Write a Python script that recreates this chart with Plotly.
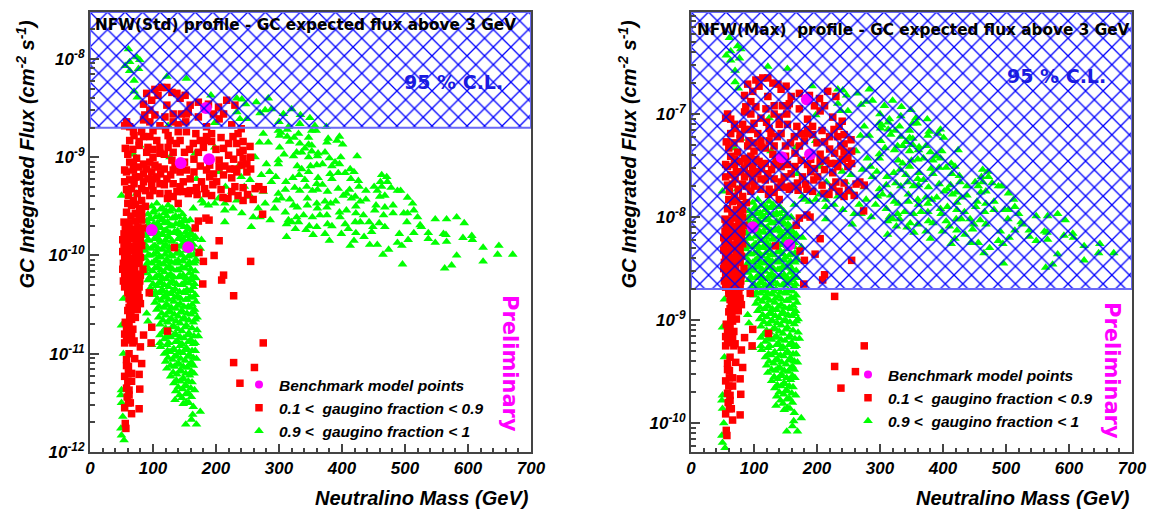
import plotly.graph_objects as go

# Values: neutralino mass (GeV) and log10 of the integrated flux
mass_green_top = [61,74,79,63,56,63,77,70,122,153,70,75,192,233,241,247,264,283,278,288,270,233,238,249,198,300,307,320,333,349,357,375,315,124,334]
std_green_top = [-7.90,-7.98,-8.01,-8.03,-8.07,-8.12,-8.10,-8.22,-8.18,-8.20,-8.33,-8.39,-8.37,-8.40,-8.41,-8.46,-8.44,-8.40,-8.52,-8.51,-8.55,-8.54,-8.61,-8.61,-8.65,-8.64,-8.56,-8.51,-8.66,-8.60,-8.68,-8.69,-8.69,-8.68,-8.57]
max_green_top = [-6.26,-6.34,-6.37,-6.39,-6.43,-6.48,-6.46,-6.58,-6.54,-6.56,-6.69,-6.75,-6.73,-6.76,-6.77,-6.82,-6.80,-6.76,-6.88,-6.87,-6.91,-6.90,-6.97,-6.97,-7.01,-7.00,-6.92,-6.87,-7.02,-6.96,-7.04,-7.05,-7.05,-7.04,-6.93]

mass_green_cloud = [303,313,331,352,359,324,313,347,378,396,392,401,376,317,333,347,352,424,308,323,328,336,341,352,362,373,347,361,380,398,389,396,384,360,369,350,329,336,347,381,394,413,405,419,414,426,427,384,362,332,322,311,341,360,369,325,333,344,353,361,377,394,412,407,402,421,438,451,456,463,471,472,461,463,478,488,493,468,460,438,429,415,390,382,373,360,345,317,304,310,323,329,345,361,376,396,407,422,454,468,481,504,512,514,498,504,520,481,466,452,422,434,397,376,365,353,339,328,310,315,320,331,312,348,360,377,384,405,421,429,443,459,449,468,503,524,526,514,548,566,582,594,537,561,565,592,606,607,537,548,566,624,649,647,671,582,624,496,563,574,465,474,456,444,413,419,380,354,343,326,312,373,399,410,422,435,447,488,495,505,491,275,299,301,269,283,301,262,280,299,299,198,79,69,167,127,169,206,272,288,254,299,177,188,198,214,214,214,227,241,256,259,270,286,293,278,296,267,233,204,180,164,151,159,167,177,175,215,225,240,245,255,265,275,285,295,235]
std_green_cloud = [-8.75,-8.72,-8.76,-8.73,-8.73,-8.80,-8.79,-8.80,-8.81,-8.79,-8.83,-8.87,-8.85,-8.84,-8.86,-8.87,-8.88,-8.99,-8.97,-8.99,-8.95,-8.95,-8.91,-8.94,-8.96,-8.95,-9.00,-8.99,-9.01,-9.00,-9.05,-9.07,-9.09,-9.08,-9.07,-9.09,-9.09,-9.12,-9.15,-9.17,-9.16,-9.12,-9.16,-9.15,-9.22,-9.24,-9.30,-9.22,-9.21,-9.18,-9.21,-9.25,-9.23,-9.27,-9.28,-9.31,-9.34,-9.30,-9.34,-9.33,-9.35,-9.32,-9.33,-9.37,-9.39,-9.40,-9.34,-9.30,-9.34,-9.18,-9.20,-9.25,-9.25,-9.30,-9.31,-9.34,-9.34,-9.39,-9.40,-9.43,-9.45,-9.42,-9.45,-9.47,-9.45,-9.47,-9.42,-9.43,-9.42,-9.33,-9.49,-9.51,-9.49,-9.52,-9.51,-9.56,-9.54,-9.50,-9.49,-9.51,-9.49,-9.41,-9.47,-9.54,-9.57,-9.57,-9.61,-9.57,-9.59,-9.54,-9.57,-9.59,-9.61,-9.59,-9.59,-9.61,-9.59,-9.61,-9.56,-9.64,-9.66,-9.66,-9.68,-9.70,-9.71,-9.68,-9.70,-9.68,-9.66,-9.66,-9.66,-9.67,-9.71,-9.71,-9.66,-9.69,-9.71,-9.77,-9.63,-9.63,-9.61,-9.67,-9.77,-9.78,-9.79,-9.82,-9.80,-9.84,-9.83,-9.87,-9.86,-9.92,-9.90,-9.99,-9.99,-10.00,-10.06,-10.09,-10.13,-10.10,-9.99,-9.94,-9.89,-9.89,-9.90,-9.85,-9.85,-9.79,-9.74,-9.73,-9.81,-9.78,-9.78,-9.73,-9.77,-9.81,-9.76,-9.87,-9.90,-9.84,-9.78,-8.76,-8.73,-8.78,-8.85,-8.85,-8.90,-9.00,-9.07,-9.03,-9.07,-8.90,-8.88,-8.97,-8.96,-9.00,-9.22,-9.15,-9.18,-9.25,-9.23,-9.37,-9.44,-9.49,-9.47,-9.47,-9.54,-9.66,-9.52,-9.57,-9.71,-9.61,-9.61,-9.64,-9.52,-9.47,-9.44,-9.52,-9.44,-9.42,-9.47,-9.52,-9.64,-9.64,-9.81,-9.84,-9.93,-9.30,-9.35,-9.20,-9.30,-9.40,-9.30,-9.35,-9.15,-9.20,-9.10]
max_green_cloud = [-7.11,-7.08,-7.12,-7.09,-7.09,-7.16,-7.15,-7.16,-7.17,-7.15,-7.19,-7.23,-7.21,-7.20,-7.22,-7.23,-7.24,-7.35,-7.33,-7.35,-7.31,-7.31,-7.27,-7.30,-7.32,-7.31,-7.36,-7.35,-7.37,-7.36,-7.41,-7.43,-7.45,-7.44,-7.43,-7.45,-7.45,-7.48,-7.51,-7.53,-7.52,-7.48,-7.52,-7.51,-7.58,-7.60,-7.66,-7.58,-7.57,-7.54,-7.57,-7.61,-7.59,-7.63,-7.64,-7.67,-7.70,-7.66,-7.70,-7.69,-7.71,-7.68,-7.69,-7.73,-7.75,-7.76,-7.70,-7.66,-7.70,-7.54,-7.56,-7.61,-7.61,-7.66,-7.67,-7.70,-7.70,-7.75,-7.76,-7.79,-7.81,-7.78,-7.81,-7.83,-7.81,-7.83,-7.78,-7.79,-7.78,-7.69,-7.85,-7.87,-7.85,-7.88,-7.87,-7.92,-7.90,-7.86,-7.85,-7.87,-7.85,-7.77,-7.83,-7.90,-7.93,-7.93,-7.97,-7.93,-7.95,-7.90,-7.93,-7.95,-7.97,-7.95,-7.95,-7.97,-7.95,-7.97,-7.92,-8.00,-8.02,-8.02,-8.04,-8.06,-8.07,-8.04,-8.06,-8.04,-8.02,-8.02,-8.02,-8.03,-8.07,-8.07,-8.02,-8.05,-8.07,-8.13,-7.99,-7.99,-7.97,-8.03,-8.13,-8.14,-8.15,-8.18,-8.16,-8.20,-8.19,-8.23,-8.22,-8.28,-8.26,-8.35,-8.35,-8.36,-8.42,-8.45,-8.49,-8.46,-8.35,-8.30,-8.25,-8.25,-8.26,-8.21,-8.21,-8.15,-8.10,-8.09,-8.17,-8.14,-8.14,-8.09,-8.13,-8.17,-8.12,-8.23,-8.26,-8.20,-8.14,-7.12,-7.09,-7.14,-7.21,-7.21,-7.26,-7.36,-7.43,-7.39,-7.43,-7.26,-7.24,-7.33,-7.32,-7.36,-7.58,-7.51,-7.54,-7.61,-7.59,-7.73,-7.80,-7.85,-7.83,-7.83,-7.90,-8.02,-7.88,-7.93,-8.07,-7.97,-7.97,-8.00,-7.88,-7.83,-7.80,-7.88,-7.80,-7.78,-7.83,-7.88,-8.00,-8.00,-8.17,-8.20,-8.29,-7.66,-7.71,-7.56,-7.66,-7.76,-7.66,-7.71,-7.51,-7.56,-7.46]

mass_green_blob = [98,106,115,124,131,92,101,110,118,127,136,147,90,97,107,116,123,133,142,152,87,95,104,112,121,130,139,149,157,88,98,107,116,125,135,144,153,161,86,94,103,112,120,129,138,147,156,164,87,97,106,115,124,133,142,152,162,87,95,105,113,122,131,140,150,160,168,89,98,108,117,126,135,146,155,165,90,99,110,118,128,138,148,158,167,92,103,112,121,131,141,151,160,168,96,106,115,125,135,145,154,164,100,110,120,129,139,149,159,167,103,113,122,133,143,152,162,168,106,117,127,136,146,156,166,109,120,130,140,150,160,170,111,123,133,143,153,164,115,125,136,146,157,170,118,128,139,149,160,172,112,122,133,143,153,164,118,127,137,147,158,167,120,131,141,151,161,169,122,134,144,154,164,128,138,148,158,165,133,143,152,162,136,147,156,166,135,146,153,161,164,175,163,161,169,152]
std_green_blob = [-9.50,-9.47,-9.52,-9.49,-9.53,-9.58,-9.56,-9.60,-9.57,-9.55,-9.60,-9.58,-9.65,-9.63,-9.67,-9.64,-9.66,-9.62,-9.67,-9.65,-9.73,-9.71,-9.75,-9.72,-9.74,-9.70,-9.75,-9.71,-9.73,-9.80,-9.78,-9.82,-9.79,-9.81,-9.77,-9.82,-9.80,-9.79,-9.88,-9.85,-9.90,-9.87,-9.89,-9.86,-9.90,-9.88,-9.85,-9.89,-9.95,-9.93,-9.97,-9.94,-9.96,-9.92,-9.97,-9.95,-9.93,-10.03,-10.00,-10.05,-10.02,-10.04,-10.01,-10.05,-10.03,-10.00,-10.04,-10.10,-10.08,-10.12,-10.09,-10.11,-10.07,-10.12,-10.10,-10.08,-10.18,-10.16,-10.20,-10.17,-10.19,-10.15,-10.20,-10.18,-10.16,-10.25,-10.23,-10.27,-10.24,-10.26,-10.22,-10.27,-10.25,-10.23,-10.33,-10.31,-10.35,-10.32,-10.34,-10.30,-10.35,-10.32,-10.40,-10.38,-10.42,-10.39,-10.41,-10.37,-10.42,-10.40,-10.48,-10.46,-10.50,-10.47,-10.49,-10.45,-10.50,-10.47,-10.55,-10.53,-10.57,-10.54,-10.56,-10.52,-10.55,-10.63,-10.61,-10.65,-10.62,-10.64,-10.60,-10.63,-10.70,-10.68,-10.72,-10.69,-10.71,-10.68,-10.78,-10.76,-10.80,-10.77,-10.79,-10.76,-10.85,-10.83,-10.87,-10.84,-10.86,-10.82,-10.93,-10.91,-10.95,-10.92,-10.94,-10.90,-11.00,-10.98,-11.02,-10.99,-11.01,-10.97,-11.08,-11.06,-11.10,-11.07,-11.09,-11.05,-11.15,-11.13,-11.17,-11.14,-11.12,-11.23,-11.21,-11.25,-11.22,-11.20,-11.30,-11.28,-11.32,-11.29,-11.38,-11.36,-11.40,-11.37,-11.47,-11.45,-11.49,-11.44,-11.54,-11.59,-11.62,-11.67,-11.72,-11.72]
max_green_blob = [-7.86,-7.83,-7.88,-7.85,-7.89,-7.94,-7.92,-7.96,-7.93,-7.91,-7.96,-7.94,-8.01,-7.99,-8.03,-8.00,-8.02,-7.98,-8.03,-8.01,-8.09,-8.07,-8.11,-8.08,-8.10,-8.06,-8.11,-8.07,-8.09,-8.16,-8.14,-8.18,-8.15,-8.17,-8.13,-8.18,-8.16,-8.15,-8.24,-8.21,-8.26,-8.23,-8.25,-8.22,-8.26,-8.24,-8.21,-8.25,-8.31,-8.29,-8.33,-8.30,-8.32,-8.28,-8.33,-8.31,-8.29,-8.39,-8.36,-8.41,-8.38,-8.40,-8.37,-8.41,-8.39,-8.36,-8.40,-8.46,-8.44,-8.48,-8.45,-8.47,-8.43,-8.48,-8.46,-8.44,-8.54,-8.52,-8.56,-8.53,-8.55,-8.51,-8.56,-8.54,-8.52,-8.61,-8.59,-8.63,-8.60,-8.62,-8.58,-8.63,-8.61,-8.59,-8.69,-8.67,-8.71,-8.68,-8.70,-8.66,-8.71,-8.68,-8.76,-8.74,-8.78,-8.75,-8.77,-8.73,-8.78,-8.76,-8.84,-8.82,-8.86,-8.83,-8.85,-8.81,-8.86,-8.83,-8.91,-8.89,-8.93,-8.90,-8.92,-8.88,-8.91,-8.99,-8.97,-9.01,-8.98,-9.00,-8.96,-8.99,-9.06,-9.04,-9.08,-9.05,-9.07,-9.04,-9.14,-9.12,-9.16,-9.13,-9.15,-9.12,-9.21,-9.19,-9.23,-9.20,-9.22,-9.18,-9.29,-9.27,-9.31,-9.28,-9.30,-9.26,-9.36,-9.34,-9.38,-9.35,-9.37,-9.33,-9.44,-9.42,-9.46,-9.43,-9.45,-9.41,-9.51,-9.49,-9.53,-9.50,-9.48,-9.59,-9.57,-9.61,-9.58,-9.56,-9.66,-9.64,-9.68,-9.65,-9.74,-9.72,-9.76,-9.73,-9.83,-9.81,-9.85,-9.80,-9.90,-9.95,-9.98,-10.03,-10.08,-10.08]

mass_green_blob2 = [102,112,121,130,141,95,104,114,122,131,141,150,92,101,110,118,127,136,146,154,91,100,109,118,127,134,143,152,160,92,102,111,120,130,140,149,158,165,91,100,108,117,126,135,144,153,161,92,101,110,119,128,137,146,156,165,92,102,111,120,129,139,148,158,167,93,103,113,122,131,141,151,160,95,106,115,124,133,143,153,163,100,109,118,127,137,147,157,166,104,113,122,131,142,151,161,107,116,125,134,144,154,164,110,120,129,139,149,159,114,124,134,144,154,165,116,127,137,147,157,167,120,130,140,151,162,122,133,143,155,165,125,136,146,156,167,123,132,142,152,162,124,134,144,155,164,128,138,148,158,132,142,152,161,137,147,156,140,150,160,142,152,148,157]
std_green_blob2 = [-9.54,-9.53,-9.55,-9.52,-9.54,-9.62,-9.61,-9.63,-9.60,-9.62,-9.61,-9.63,-9.69,-9.68,-9.70,-9.67,-9.70,-9.68,-9.69,-9.71,-9.77,-9.76,-9.78,-9.75,-9.77,-9.76,-9.78,-9.76,-9.77,-9.84,-9.83,-9.85,-9.84,-9.85,-9.83,-9.84,-9.85,-9.83,-9.92,-9.91,-9.93,-9.91,-9.92,-9.93,-9.91,-9.92,-9.91,-10.00,-9.99,-10.01,-9.99,-10.00,-9.98,-10.00,-10.01,-9.99,-10.07,-10.06,-10.08,-10.06,-10.07,-10.08,-10.06,-10.07,-10.06,-10.14,-10.13,-10.15,-10.13,-10.14,-10.15,-10.13,-10.14,-10.22,-10.21,-10.23,-10.21,-10.22,-10.21,-10.23,-10.21,-10.29,-10.28,-10.30,-10.28,-10.29,-10.30,-10.28,-10.29,-10.37,-10.36,-10.38,-10.36,-10.37,-10.38,-10.36,-10.44,-10.43,-10.45,-10.43,-10.44,-10.45,-10.43,-10.52,-10.51,-10.53,-10.51,-10.52,-10.53,-10.59,-10.58,-10.60,-10.58,-10.59,-10.58,-10.66,-10.65,-10.67,-10.65,-10.66,-10.65,-10.74,-10.73,-10.75,-10.73,-10.74,-10.82,-10.81,-10.83,-10.81,-10.82,-10.89,-10.88,-10.90,-10.88,-10.89,-10.97,-10.96,-10.98,-10.96,-10.97,-11.04,-11.03,-11.05,-11.03,-11.04,-11.12,-11.11,-11.13,-11.11,-11.19,-11.18,-11.20,-11.18,-11.27,-11.26,-11.28,-11.34,-11.33,-11.35,-11.42,-11.41,-11.51,-11.50]
max_green_blob2 = [-7.90,-7.89,-7.91,-7.88,-7.90,-7.98,-7.97,-7.99,-7.96,-7.98,-7.97,-7.99,-8.05,-8.04,-8.06,-8.03,-8.06,-8.04,-8.05,-8.07,-8.13,-8.12,-8.14,-8.11,-8.13,-8.12,-8.14,-8.12,-8.13,-8.20,-8.19,-8.21,-8.20,-8.21,-8.19,-8.20,-8.21,-8.19,-8.28,-8.27,-8.29,-8.27,-8.28,-8.29,-8.27,-8.28,-8.27,-8.36,-8.35,-8.37,-8.35,-8.36,-8.34,-8.36,-8.37,-8.35,-8.43,-8.42,-8.44,-8.42,-8.43,-8.44,-8.42,-8.43,-8.42,-8.50,-8.49,-8.51,-8.49,-8.50,-8.51,-8.49,-8.50,-8.58,-8.57,-8.59,-8.57,-8.58,-8.57,-8.59,-8.57,-8.65,-8.64,-8.66,-8.64,-8.65,-8.66,-8.64,-8.65,-8.73,-8.72,-8.74,-8.72,-8.73,-8.74,-8.72,-8.80,-8.79,-8.81,-8.79,-8.80,-8.81,-8.79,-8.88,-8.87,-8.89,-8.87,-8.88,-8.89,-8.95,-8.94,-8.96,-8.94,-8.95,-8.94,-9.02,-9.01,-9.03,-9.01,-9.02,-9.01,-9.10,-9.09,-9.11,-9.09,-9.10,-9.18,-9.17,-9.19,-9.17,-9.18,-9.25,-9.24,-9.26,-9.24,-9.25,-9.33,-9.32,-9.34,-9.32,-9.33,-9.40,-9.39,-9.41,-9.39,-9.40,-9.48,-9.47,-9.49,-9.47,-9.55,-9.54,-9.56,-9.54,-9.63,-9.62,-9.64,-9.70,-9.69,-9.71,-9.78,-9.77,-9.87,-9.86]

mass_green_edge = [53,50,49,50,52,49,50,54,50,53,50,90,92,111,98,111,74]
std_green_edge = [-11.00,-11.37,-11.42,-11.50,-11.64,-11.76,-11.83,-11.88,-9.39,-10.44,-10.71,-10.59,-10.67,-10.81,-10.91,-10.89,-9.37]
max_green_edge = [-9.36,-9.73,-9.78,-9.86,-10.00,-10.12,-10.19,-10.24,-7.75,-8.80,-9.07,-8.95,-9.03,-9.17,-9.27,-9.25,-7.73]

mass_red_cluster = [103,114,122,130,138,151,90,85,98,108,143,159,156,172,188,204,217,230,212,196,172,153,145,132,132,119,122,95,87,103,111,85,58,55,63,69,82,140,185,225,240,85,95,106,124,140,153,185,193,63,56,92,111,137,127,143,164,180,185,193,227,243,254,233,220,212,243,220,243,249,230,214,175,100,90,74,85,69,111,124,132,103,90,55]
std_red_cluster = [-8.31,-8.29,-8.29,-8.34,-8.35,-8.37,-8.35,-8.46,-8.42,-8.37,-8.40,-8.47,-8.54,-8.44,-8.46,-8.49,-8.42,-8.47,-8.56,-8.56,-8.59,-8.56,-8.56,-8.56,-8.64,-8.59,-8.47,-8.52,-8.57,-8.57,-8.68,-8.62,-8.64,-8.68,-8.69,-8.74,-8.74,-8.67,-8.69,-8.67,-8.71,-8.79,-8.79,-8.83,-8.78,-8.74,-8.74,-8.79,-8.76,-8.83,-8.91,-8.90,-8.90,-8.86,-8.83,-8.83,-8.86,-8.90,-8.83,-8.84,-8.79,-8.84,-8.89,-8.86,-8.86,-8.91,-8.93,-8.98,-9.01,-9.07,-9.12,-9.09,-9.09,-9.00,-8.95,-9.01,-9.07,-9.08,-8.96,-8.90,-8.95,-9.08,-9.12,-9.13]
max_red_cluster = [-6.67,-6.65,-6.65,-6.70,-6.71,-6.73,-6.71,-6.82,-6.78,-6.73,-6.76,-6.83,-6.90,-6.80,-6.82,-6.85,-6.78,-6.83,-6.92,-6.92,-6.95,-6.92,-6.92,-6.92,-7.00,-6.95,-6.83,-6.88,-6.93,-6.93,-7.04,-6.98,-7.00,-7.04,-7.05,-7.10,-7.10,-7.03,-7.05,-7.03,-7.07,-7.15,-7.15,-7.19,-7.14,-7.10,-7.10,-7.15,-7.12,-7.19,-7.27,-7.26,-7.26,-7.22,-7.19,-7.19,-7.22,-7.26,-7.19,-7.20,-7.15,-7.20,-7.25,-7.22,-7.22,-7.27,-7.29,-7.34,-7.37,-7.43,-7.48,-7.45,-7.45,-7.36,-7.31,-7.37,-7.43,-7.44,-7.32,-7.26,-7.31,-7.44,-7.48,-7.49]

mass_red_mid = [58,69,79,63,92,106,122,132,143,153,196,185,201,225,233,249,66,82,98,111,148,159,177,182,169,159,156,138,124,111,95,61,69,82,66,79,58,82,82,230,243,262,275,235,243,259,211,219,193,184,140,123,274,172,184,189,167,205,134,173,197,180,255,212,209,179,228,94,98,123,85]
std_red_mid = [-9.15,-9.13,-9.20,-9.23,-9.22,-9.20,-9.22,-9.13,-9.15,-9.13,-9.17,-9.13,-9.25,-9.21,-9.15,-9.15,-9.32,-9.32,-9.29,-9.27,-9.25,-9.22,-9.25,-9.32,-9.31,-9.34,-9.37,-9.35,-9.37,-9.37,-9.39,-9.39,-9.44,-9.44,-9.49,-9.52,-9.56,-9.57,-9.64,-9.30,-9.31,-9.32,-9.33,-9.39,-9.44,-9.43,-9.41,-9.42,-9.39,-9.37,-9.47,-9.42,-9.58,-9.65,-9.62,-9.64,-9.72,-9.85,-9.92,-9.97,-10.00,-10.06,-10.06,-10.20,-10.25,-10.29,-10.41,-10.38,-10.73,-10.77,-10.81]
max_red_mid = [-7.51,-7.49,-7.56,-7.59,-7.58,-7.56,-7.58,-7.49,-7.51,-7.49,-7.53,-7.49,-7.61,-7.57,-7.51,-7.51,-7.68,-7.68,-7.65,-7.63,-7.61,-7.58,-7.61,-7.68,-7.67,-7.70,-7.73,-7.71,-7.73,-7.73,-7.75,-7.75,-7.80,-7.80,-7.85,-7.88,-7.92,-7.93,-8.00,-7.66,-7.67,-7.68,-7.69,-7.75,-7.80,-7.79,-7.77,-7.78,-7.75,-7.73,-7.83,-7.78,-7.94,-8.01,-7.98,-8.00,-8.08,-8.21,-8.28,-8.33,-8.36,-8.42,-8.42,-8.56,-8.61,-8.65,-8.77,-8.74,-9.09,-9.13,-9.17]

mass_red_dense = [60,68,78,100,118,130,150,158,172,200,205,238,228,255,63,78,95,108,118,135,150,165,190,205,240,255,72,85,98,112,128,165,190,212,222,70,85,100,118,132,143,195,55,58,75,88,100,132,148,170,72,88,60,72,65,78,225,250,268,208,70,78,100,120,168,175,208,235,95,152,205]
std_red_dense = [-8.97,-8.92,-8.88,-8.92,-8.97,-9.03,-8.95,-8.92,-8.95,-8.92,-9.03,-8.95,-9.02,-9.00,-9.05,-9.10,-9.05,-9.10,-9.12,-9.08,-9.05,-9.02,-9.08,-9.10,-9.08,-9.12,-9.20,-9.17,-9.15,-9.17,-9.18,-9.15,-9.20,-9.18,-9.12,-9.27,-9.25,-9.22,-9.28,-9.27,-9.30,-9.28,-9.25,-9.33,-9.37,-9.34,-9.34,-9.40,-9.35,-9.38,-9.48,-9.50,-9.47,-9.57,-9.60,-9.62,-9.35,-9.38,-9.30,-9.33,-8.78,-8.84,-8.73,-8.72,-8.76,-8.83,-8.80,-8.76,-8.64,-8.64,-8.61]
max_red_dense = [-7.33,-7.28,-7.24,-7.28,-7.33,-7.39,-7.31,-7.28,-7.31,-7.28,-7.39,-7.31,-7.38,-7.36,-7.41,-7.46,-7.41,-7.46,-7.48,-7.44,-7.41,-7.38,-7.44,-7.46,-7.44,-7.48,-7.56,-7.53,-7.51,-7.53,-7.54,-7.51,-7.56,-7.54,-7.48,-7.63,-7.61,-7.58,-7.64,-7.63,-7.66,-7.64,-7.61,-7.69,-7.73,-7.70,-7.70,-7.76,-7.71,-7.74,-7.84,-7.86,-7.83,-7.93,-7.96,-7.98,-7.71,-7.74,-7.66,-7.69,-7.14,-7.20,-7.09,-7.08,-7.12,-7.19,-7.16,-7.12,-7.00,-7.00,-6.97]

mass_red_strip = [54,62,72,56,66,76,84,54,63,72,81,52,60,70,80,54,64,73,82,52,60,70,78,55,64,72,80,53,61,70,78,52,60,71,84,55,64,73,80,53,61,70,79,55,63,72,78,60,68,76,62,70,78,64,73,80,60,65,63,72,56,62,58,68,55,66,58,70,57,70,58,75,59,67,57,67,59,76,67,60,72,68,62,75,66,60,62,66,60,62,58,64]
std_red_strip = [-9.66,-9.67,-9.65,-9.72,-9.73,-9.71,-9.72,-9.78,-9.79,-9.77,-9.78,-9.84,-9.85,-9.83,-9.84,-9.90,-9.91,-9.89,-9.90,-9.96,-9.97,-9.95,-9.96,-10.02,-10.03,-10.01,-10.02,-10.08,-10.09,-10.07,-10.08,-10.14,-10.15,-10.13,-10.14,-10.20,-10.21,-10.19,-10.20,-10.26,-10.27,-10.25,-10.26,-10.32,-10.33,-10.31,-10.32,-10.38,-10.39,-10.37,-10.44,-10.45,-10.43,-10.50,-10.51,-10.49,-10.56,-10.57,-10.62,-10.63,-10.68,-10.69,-10.74,-10.75,-10.80,-10.81,-10.86,-10.87,-9.70,-9.75,-9.87,-9.87,-9.99,-10.05,-10.11,-10.17,-10.23,-10.23,-10.29,-10.35,-10.35,-10.47,-10.53,-10.55,-10.65,-10.72,-10.84,-11.28,-11.28,-11.42,-11.12,-11.50]
max_red_strip = [-8.02,-8.03,-8.01,-8.08,-8.09,-8.07,-8.08,-8.14,-8.15,-8.13,-8.14,-8.20,-8.21,-8.19,-8.20,-8.26,-8.27,-8.25,-8.26,-8.32,-8.33,-8.31,-8.32,-8.38,-8.39,-8.37,-8.38,-8.44,-8.45,-8.43,-8.44,-8.50,-8.51,-8.49,-8.50,-8.56,-8.57,-8.55,-8.56,-8.62,-8.63,-8.61,-8.62,-8.68,-8.69,-8.67,-8.68,-8.74,-8.75,-8.73,-8.80,-8.81,-8.79,-8.86,-8.87,-8.85,-8.92,-8.93,-8.98,-8.99,-9.04,-9.05,-9.10,-9.11,-9.16,-9.17,-9.22,-9.23,-8.06,-8.11,-8.23,-8.23,-8.35,-8.41,-8.47,-8.53,-8.59,-8.59,-8.65,-8.71,-8.71,-8.83,-8.89,-8.91,-9.01,-9.08,-9.20,-9.64,-9.64,-9.78,-9.48,-9.86]

mass_red_low = [55,68,80,97,62,58,71,82,61,66,55,61,78,58,62,79,59,61,55,66,78,56,57,275,228,261,238]
std_red_low = [-10.89,-10.89,-10.93,-10.89,-11.00,-11.06,-11.05,-11.10,-11.13,-11.20,-11.23,-11.20,-11.21,-11.35,-11.37,-11.36,-11.44,-11.50,-11.55,-11.61,-11.56,-11.71,-11.76,-10.89,-11.09,-11.14,-11.30]
max_red_low = [-9.25,-9.25,-9.29,-9.25,-9.36,-9.42,-9.41,-9.46,-9.49,-9.56,-9.59,-9.56,-9.57,-9.71,-9.73,-9.72,-9.80,-9.86,-9.91,-9.97,-9.92,-10.07,-10.12,-9.25,-9.45,-9.50,-9.66]

mass_bench = [144,189,184,98,156]
std_bench = [-9.06,-9.02,-8.50,-9.74,-9.915]
max_bench = [-7.42,-7.39,-6.86,-8.10,-8.27]

mass_ticks = [0,100,200,300,400,500,600,700]
std_decades = [-12,-11,-10,-9,-8]
max_decades = [-10,-9,-8,-7]
flux_limit = 2e-9
std_range = [-12,-7.522]
max_range = [-10.28,-6.01]

LEG = ["Benchmark model points", "0.1 <\u00a0\u00a0gaugino fraction < 0.9", "0.9 <\u00a0\u00a0gaugino fraction < 1"]
BI = dict(family="Liberation Sans", weight=700, style="italic", color="black")
W, H = 1151, 509


def logs(v):
    return [10 ** a for a in v]


fig = go.Figure()
panels = [
    dict(sfx="", leg="legend", dom=[90 / W, 531 / W], rng=std_range, dec=std_decades,
         green=std_green_top + std_green_cloud + std_green_blob + std_green_blob2 + std_green_edge,
         red=std_red_cluster + std_red_mid + std_red_dense + std_red_strip + std_red_low, bench=std_bench),
    dict(sfx="2", leg="legend2", dom=[691 / W, 1132 / W], rng=max_range, dec=max_decades,
         green=max_green_top + max_green_cloud + max_green_blob + max_green_blob2 + max_green_edge,
         red=max_red_cluster + max_red_mid + max_red_dense + max_red_strip + max_red_low, bench=max_bench),
]
mass_green = mass_green_top + mass_green_cloud + mass_green_blob + mass_green_blob2 + mass_green_edge
mass_red = mass_red_cluster + mass_red_mid + mass_red_dense + mass_red_strip + mass_red_low

for p in panels:
    ax = dict(xaxis="x" + p["sfx"], yaxis="y" + p["sfx"], legend=p["leg"])
    fig.add_trace(go.Scatter(x=mass_green, y=logs(p["green"]), mode="markers", name=LEG[2], legendgroup="g", legendrank=3,
                             marker=dict(symbol="triangle-up", size=8.5, color="#00ff00"), **ax))
    fig.add_trace(go.Scatter(x=mass_red, y=logs(p["red"]), mode="markers", name=LEG[1], legendgroup="r", legendrank=2,
                             marker=dict(symbol="square", size=7.5, color="#ff0000"), **ax))
    fig.add_trace(go.Scatter(x=mass_bench, y=logs(p["bench"]), mode="markers", showlegend=False,
                             marker=dict(symbol="circle", size=12, color="#ff00ff"), **ax))
    fig.add_trace(go.Scatter(x=[None], y=[None], mode="markers", name=LEG[0], legendgroup="b", legendrank=1,
                             marker=dict(symbol="circle", size=8, color="#ff00ff"), **ax))
    top = 10 ** p["rng"][1]
    fig.add_trace(go.Scatter(x=[0, 700, 700, 0, 0], y=[flux_limit, flux_limit, top, top, flux_limit], mode="lines",
                             fill="toself", showlegend=False, hoverinfo="skip",
                             fillcolor="rgba(0,0,0,0)",
                             fillpattern=dict(shape="x", fgcolor="#0000ff", fgopacity=1, bgcolor="rgba(0,0,0,0)", size=12.4, solidity=0.2),
                             line=dict(color="#6a6af5", width=2), **ax))
    lo, hi = int(p["rng"][0]) - 1, int(p["rng"][1]) + 1
    minor_vals = [m * 10.0 ** d for d in range(lo, hi) for m in range(2, 10)]
    linec = "#444444"
    fig.layout["xaxis" + p["sfx"]] = dict(
        domain=p["dom"], range=[0, 700], anchor="y" + p["sfx"], tickvals=mass_ticks, ticks="inside", ticklen=8, tickwidth=1.5,
        tickcolor=linec, linecolor=linec, linewidth=2, mirror=True, showgrid=False, zeroline=False,
        tickfont=dict(size=17, **BI), tickangle=0,
        minor=dict(ticks="inside", ticklen=4, tickwidth=1.5, tickcolor=linec, dtick=20, tick0=0, showgrid=False))
    fig.layout["yaxis" + p["sfx"]] = dict(
        domain=[1 - 452 / H, 1 - 12 / H], type="log", range=p["rng"], anchor="x" + p["sfx"],
        tickvals=[10.0 ** d for d in p["dec"]], ticktext=[f"10<sup>{d}</sup>" for d in p["dec"]],
        ticks="inside", ticklen=9, tickwidth=1.5, tickcolor=linec, linecolor=linec, linewidth=2, mirror=True,
        showgrid=False, zeroline=False, tickfont=dict(size=17, **BI),
        minor=dict(ticks="inside", ticklen=5, tickwidth=1.5, tickcolor=linec, tickvals=minor_vals, showgrid=False))


def px(x):
    return x / W


def py(y):
    return 1 - y / H


def note(text, x, y, size, color="black", angle=0, xa="center", ya="middle", family="Liberation Sans", style="italic"):
    fig.add_annotation(text=text, xref="paper", yref="paper", x=px(x), y=py(y), showarrow=False, textangle=angle,
                       xanchor=xa, yanchor=ya, font=dict(size=size, color=color, family=family, weight=700, style=style))


flux_title = "GC Integrated Flux (cm<sup>-2</sup> s<sup>-1</sup>)"
note(flux_title, 25, 18, 20, angle=-90, ya="top")
note(flux_title, 627, 18, 20, angle=-90, ya="top")
note("Neutralino Mass (GeV)", 531, 498, 20, xa="right")
note("Neutralino Mass (GeV)", 1132, 498, 20, xa="right")
note("NFW(Std) profile - GC expected flux above 3 GeV", 305, 25, 15.3, family="DejaVu Sans", style="normal")
note("NFW(Max)\u00a0 profile - GC expected flux above 3 GeV", 913, 30, 15.3, family="DejaVu Sans", style="normal")
note("95 % C.L.", 453, 82, 19, color="#1a1ae0", family="DejaVu Sans", style="normal")
note("95 % C.L.", 1056, 76, 19, color="#1a1ae0", family="DejaVu Sans", style="normal")
note("Preliminary", 510, 363, 21, color="#ff00ff", angle=90, family="DejaVu Sans", style="normal")
note("Preliminary", 1112, 370, 21, color="#ff00ff", angle=90, family="DejaVu Sans", style="normal")

legend_common = dict(bgcolor="rgba(0,0,0,0)", borderwidth=0, xanchor="left", yanchor="top", tracegroupgap=3,
                     font=dict(size=15.5, **BI), traceorder="normal")
fig.update_layout(
    width=W, height=H, margin=dict(l=0, r=0, t=0, b=0, autoexpand=False), paper_bgcolor="white", plot_bgcolor="white",
    showlegend=True,
    legend=dict(x=px(239), y=py(368), **legend_common),
    legend2=dict(x=px(848), y=py(358), **legend_common),
)
fig.write_html("out.html", config={"displayModeBar": False}, post_script="document.body.style.margin='0';")
